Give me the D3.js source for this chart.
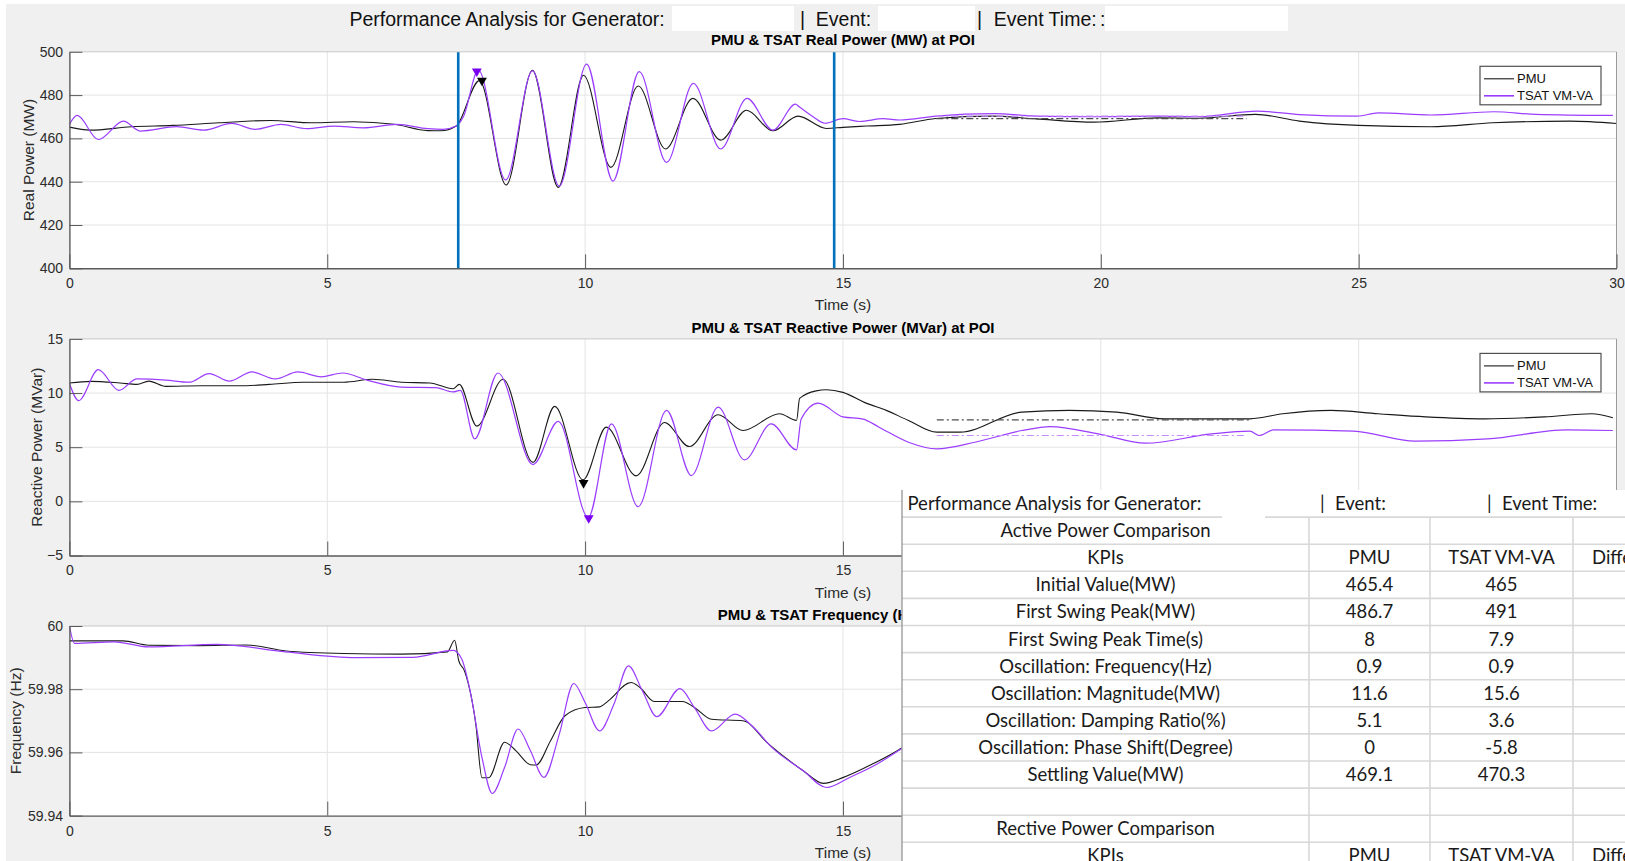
<!DOCTYPE html>
<html>
<head>
<meta charset="utf-8">
<script src="https://cdn.jsdelivr.net/npm/d3@7"></script>
<style>
  html, body { margin: 0; padding: 0; background: #fff; overflow: hidden; }
  svg { display: block; }
</style>
</head>
<body>
<div id="chart"></div>
<script>
// ---- data ----
const timeTicks = [0, 5, 10, 15, 20, 25, 30];
const realTicks = [400, 420, 440, 460, 480, 500];
const reactiveTicks = [-5, 0, 5, 10, 15];
const freqTicks = [59.94, 59.96, 59.98, 60];

const eventWindow = [7.54, 14.83];

// [time (s), MW]
const realPMU = [[0,465.2],[0.4,463.8],[1.2,465.4],[2.0,466],[2.9,467.2],[3.9,468.3],[4.7,467.2],[5.5,467.7],[6.3,466.5],[6.95,463.6],[7.2,463.5],[7.5,465.7],[7.95,486.7],[8.47,438.5],[8.98,491.5],[9.48,437.4],[9.97,489.2],[10.5,446.6],[11.03,484.2],[11.56,455.1],[12.09,478.5],[12.63,459.2],[13.13,473],[13.64,463.5],[14.13,470.3],[14.68,464.6],[15.0,465.1],[15.45,465.7],[16.1,466.5],[16.8,469.2],[17.9,470.3],[18.75,469],[19.87,467.5],[21.1,469.5],[21.9,469.3],[23.0,471.1],[23.85,468],[25.0,466],[26.4,465.4],[27.6,467.2],[29.1,468],[30,466.9]];
const realTSAT = [[0,466.5],[0.15,470.6],[0.56,459.5],[1.05,468],[1.37,463.4],[2.08,465.4],[2.6,463.8],[3.15,466.9],[3.6,464.2],[4.1,466.5],[4.6,464.5],[5.13,465.7],[5.7,464.9],[6.35,466.5],[6.95,464.5],[7.25,464.2],[7.5,465.7],[7.64,470],[7.93,491.5],[8.46,440.8],[8.98,491.2],[9.5,438],[10.03,494.3],[10.54,440.3],[11.05,490.8],[11.58,448.9],[12.1,485.4],[12.63,455.1],[13.14,478.5],[13.64,463.8],[14.08,475.8],[14.15,474.6],[14.42,470],[14.65,467],[15.0,469.1],[15.32,467.8],[15.78,469.1],[16.1,468.5],[16.8,470.3],[17.93,471.4],[18.75,470.3],[19.87,470],[21.09,470.3],[21.91,470],[23.03,472.6],[23.85,471],[24.97,470.3],[25.38,471.8],[26.4,470.8],[27.62,472.3],[28.44,471.1],[29.93,470.6]];

// [time (s), MVar]
const reactivePMU = [[0,10.93],[0.42,11.08],[0.98,10.93],[1.31,10.8],[1.54,11.1],[1.87,10.62],[2.54,10.68],[3.43,10.68],[3.88,10.8],[4.54,11.0],[5.32,11.0],[5.88,11.27],[6.44,11.0],[6.99,10.93],[7.44,10.4],[7.56,10.8],[7.9,6.95],[8.41,11.27],[8.99,3.6],[9.41,8.77],[9.96,1.98],[10.41,6.85],[10.99,2.35],[11.54,7.28],[12.02,5.06],[12.58,8.0],[13.06,6.54],[13.77,8.09],[14.1,7.47],[14.16,9.5],[14.48,10.2],[14.68,10.3],[15.0,10.06],[15.45,9.07],[15.84,8.4],[16.27,7.47],[16.82,6.39],[17.27,6.39],[18.47,8.24],[19.39,8.4],[20.31,8.24],[21.23,7.62],[22.89,7.62],[23.53,8.09],[24.46,8.4],[25.38,8.09],[26.3,7.8],[27.45,7.62],[28.6,7.8],[29.52,8.09],[29.93,7.72]];
const reactiveTSAT = [[0,10.9],[0.18,9.3],[0.56,12.16],[0.96,10.25],[1.31,11.3],[1.87,11.2],[2.32,11.0],[2.71,11.8],[3.1,11.1],[3.54,11.95],[3.99,11.3],[4.43,11.95],[4.88,11.5],[5.3,11.85],[5.77,11.2],[6.44,10.55],[7.1,10.5],[7.44,10.1],[7.58,10.25],[7.86,5.77],[8.31,11.85],[8.99,3.4],[9.48,7.38],[10.06,-1.48],[10.51,7.16],[11.03,-0.5],[11.58,8.4],[12.06,2.38],[12.58,8.7],[13.09,3.83],[13.61,7.16],[14.1,4.75],[14.19,7.6],[14.52,9.07],[15.0,7.8],[15.39,7.6],[15.7,6.85],[16.27,5.46],[16.82,4.85],[17.56,5.46],[18.47,6.54],[19.02,6.9],[19.95,6.23],[20.87,5.37],[22.15,6.23],[22.89,6.48],[23.07,6.08],[23.35,6.6],[24.9,6.48],[26.1,5.56],[27.5,5.77],[29.05,6.6],[29.93,6.54]];

// [time (s), Hz]
const freqPMU = [[0,59.9953],[1.04,59.9953],[1.54,59.9939],[2.5,59.9938],[3.43,59.994],[4.2,59.9921],[5.32,59.9913],[6.44,59.9911],[7.33,59.9918],[7.47,59.9955],[7.55,59.989],[7.66,59.9858],[7.88,59.969],[8.0,59.952],[8.13,59.952],[8.44,59.9632],[8.66,59.9605],[8.94,59.9561],[9.05,59.956],[9.33,59.9637],[9.61,59.9716],[10.0,59.9742],[10.28,59.9744],[10.45,59.9763],[10.89,59.9821],[11.06,59.9806],[11.34,59.9761],[11.89,59.9761],[12.12,59.9742],[12.45,59.9705],[13.06,59.97],[13.56,59.9626],[14.23,59.9542],[14.62,59.9502],[15.01,59.9521],[15.57,59.9563],[16.07,59.9607],[16.3,59.963]];
const freqTSAT = [[0,60.0],[0.1,59.9945],[0.87,59.995],[1.54,59.9934],[2.87,59.9942],[4.2,59.9918],[5.55,59.99],[6.66,59.9901],[7.44,59.9923],[7.61,59.9895],[7.77,59.9795],[8.0,59.9584],[8.2,59.947],[8.44,59.9553],[8.7,59.9674],[8.94,59.9605],[9.2,59.9521],[9.5,59.9658],[9.78,59.9818],[10.0,59.9758],[10.28,59.9668],[10.56,59.9753],[10.84,59.9874],[11.11,59.9795],[11.39,59.9713],[11.84,59.9802],[12.12,59.9742],[12.45,59.9668],[12.91,59.9721],[13.23,59.9685],[13.62,59.9616],[14.23,59.9542],[14.68,59.9489],[15.12,59.952],[15.68,59.9565],[16.07,59.9605],[16.3,59.963]];

// settling values (dash-dot) and first swing markers
const realSettling = [{series: "PMU", value: 469.1, from: 16.81, to: 22.83}, {series: "TSAT", value: 470.3, from: 16.81, to: 22.83}];
const reactiveSettling = [{series: "PMU", value: 7.53, from: 16.82, to: 22.89}, {series: "TSAT", value: 6.08, from: 16.82, to: 22.8}];
const realPeaks = [{series: "TSAT", t: 7.9, value: 491}, {series: "PMU", t: 8, value: 486.7}];
const reactivePeaks = [{series: "TSAT", t: 10.07, value: -1.54}, {series: "PMU", t: 9.97, value: 1.7}];

// table
const tableColumns = ["KPIs", "PMU", "TSAT VM-VA", "Difference"];
const activeKpis = ["Initial Value(MW)", "First Swing Peak(MW)", "First Swing Peak Time(s)", "Oscillation: Frequency(Hz)", "Oscillation: Magnitude(MW)", "Oscillation: Damping Ratio(%)", "Oscillation: Phase Shift(Degree)", "Settling Value(MW)"];
const activePmu = ["465.4", "486.7", "8", "0.9", "11.6", "5.1", "0", "469.1"];
const activeTsat = ["465", "491", "7.9", "0.9", "15.6", "3.6", "-5.8", "470.3"];

// ---- drawing ----
const W = 1625, H = 861;
const config = {
  left: 69.4,
  right: 1616.5,
  font: "'Liberation Sans', Arial, Helvetica, sans-serif",
  tableFont: "Lato, 'Open Sans', sans-serif",
  pmuColor: "#1a1a1a",
  tsatColor: "#9b3dff",
  markerPurple: "#7a00f0",
  eventColor: "#0072bd",
  axisColor: "#5a5a5a",
  gridColor: "#e4e4e4"
};
// the KPI table pasted over the lower right corner
const tLeft = 902, tTop = 490, rowH = 27.1;

const svg = d3.select("#chart")
  .append("svg")
  .attr("width", W)
  .attr("height", H);

svg.append("rect")
  .attr("x", 6).attr("y", 4)
  .attr("width", W).attr("height", H)
  .attr("fill", "#f0f0f0");

const x = d3.scaleLinear().domain([0, 30]).range([config.left, config.right]);

// figure title with blanked values
const head = svg.append("g").attr("font-family", config.font).attr("font-size", 19.5).attr("fill", "#111");
head.append("text").attr("x", 349.4).attr("y", 26).text("Performance Analysis for Generator:");
head.append("text").attr("x", 800).attr("y", 26).text("|");
head.append("text").attr("x", 815.8).attr("y", 26).text("Event:");
head.append("text").attr("x", 977).attr("y", 26).text("|");
head.append("text").attr("x", 993.7).attr("y", 26).text("Event Time:");
head.append("text").attr("x", 1100).attr("y", 26).text(":");
[[672, 794], [878, 975], [1105, 1288]].forEach(b => {
  head.append("rect").attr("x", b[0]).attr("y", 6).attr("width", b[1] - b[0]).attr("height", 25).attr("fill", "#fff");
});

// everything left of the pasted table
svg.append("clipPath").attr("id", "clip-left")
  .append("rect").attr("x", 0).attr("y", 0).attr("width", tLeft).attr("height", H);

const panels = [
  {id: "real", top: 51.8, bottom: 268.3, domain: [400, 500], ticks: realTicks, fmt: d3.format("d"),
   title: "PMU & TSAT Real Power (MW) at POI", titleY: 45, ylabel: "Real Power (MW)", ylabelX: 33.5,
   pmu: realPMU, tsat: realTSAT, settling: realSettling, peaks: realPeaks, events: eventWindow, legend: true},
  {id: "reactive", top: 338.9, bottom: 555.5, domain: [-5, 15], ticks: reactiveTicks, fmt: d3.format("d"),
   title: "PMU & TSAT Reactive Power (MVar) at POI", titleY: 333, ylabel: "Reactive Power (MVar)", ylabelX: 42,
   pmu: reactivePMU, tsat: reactiveTSAT, settling: reactiveSettling, peaks: reactivePeaks, events: [], legend: true},
  {id: "freq", top: 626, bottom: 815.6, domain: [59.94, 60], ticks: freqTicks, fmt: d => d === 60 ? "60" : d3.format(".2f")(d),
   title: "PMU & TSAT Frequency (Hz) at POI", titleY: 620, ylabel: "Frequency (Hz)", ylabelX: 21,
   pmu: freqPMU, tsat: freqTSAT, settling: [], peaks: [], events: [], legend: false}
];

const drawPanel = function(p) {
  const y = d3.scaleLinear().domain(p.domain).range([p.bottom, p.top]);
  const g = svg.append("g").attr("class", "panel-" + p.id);
  const plotW = x(30) - x(0);
  const underTable = p.bottom > tTop;

  g.append("rect")
    .attr("x", x(0)).attr("y", p.top)
    .attr("width", plotW).attr("height", p.bottom - p.top)
    .attr("fill", "#fff");

  g.selectAll(".vgrid").data(timeTicks.slice(1, -1)).enter().append("line")
    .attr("x1", d => x(d)).attr("x2", d => x(d))
    .attr("y1", p.top).attr("y2", p.bottom)
    .attr("stroke", config.gridColor);
  g.selectAll(".hgrid").data(p.ticks.slice(1, -1)).enter().append("line")
    .attr("x1", x(0)).attr("x2", x(30))
    .attr("y1", d => y(d)).attr("y2", d => y(d))
    .attr("stroke", config.gridColor);

  svg.append("clipPath").attr("id", "clip-" + p.id)
    .append("rect")
    .attr("x", x(0)).attr("y", p.top)
    .attr("width", plotW).attr("height", p.bottom - p.top);
  const plot = g.append("g").attr("clip-path", "url(#clip-" + p.id + ")");

  const line = d3.line()
    .x(d => x(d[0]))
    .y(d => y(d[1]))
    .curve(d3.curveMonotoneX);

  plot.append("path").datum(p.pmu)
    .attr("d", line)
    .attr("fill", "none")
    .attr("stroke", config.pmuColor)
    .attr("stroke-width", 1.1);
  plot.append("path").datum(p.tsat)
    .attr("d", line)
    .attr("fill", "none")
    .attr("stroke", config.tsatColor)
    .attr("stroke-width", 1.2);

  plot.selectAll(".settle").data(p.settling).enter().append("line")
    .attr("x1", d => x(d.from)).attr("x2", d => x(d.to))
    .attr("y1", d => y(d.value)).attr("y2", d => y(d.value))
    .attr("stroke", d => d.series === "PMU" ? "#4d4d4d" : "#c48cff")
    .attr("stroke-width", 1.2)
    .attr("stroke-dasharray", "7,3,2,3");

  plot.selectAll(".event").data(p.events).enter().append("line")
    .attr("x1", d => x(d)).attr("x2", d => x(d))
    .attr("y1", p.top).attr("y2", p.bottom)
    .attr("stroke", config.eventColor)
    .attr("stroke-width", 2.6);

  const tri = d3.symbol().type(d3.symbolTriangle).size(42);
  plot.selectAll(".peak").data(p.peaks).enter().append("path")
    .attr("d", tri)
    .attr("transform", d => "translate(" + x(d.t) + "," + y(d.value) + ") rotate(180)")
    .attr("fill", d => d.series === "PMU" ? "#000" : config.markerPurple);

  // box
  g.append("line").attr("x1", x(0)).attr("x2", x(30)).attr("y1", p.top).attr("y2", p.top)
    .attr("stroke", "#c8c8c8");
  g.append("line").attr("x1", x(30)).attr("x2", x(30)).attr("y1", p.top).attr("y2", p.bottom)
    .attr("stroke", "#9a9a9a");

  const xAxis = g.append("g")
    .attr("transform", "translate(0," + p.bottom + ")")
    .call(d3.axisBottom(x).tickValues(timeTicks).tickSize(-14).tickSizeOuter(0).tickPadding(10));
  const yAxis = g.append("g")
    .attr("transform", "translate(" + x(0) + ",0)")
    .call(d3.axisLeft(y).tickValues(p.ticks).tickFormat(p.fmt).tickSize(-13).tickSizeOuter(0).tickPadding(6.4));
  [xAxis, yAxis].forEach(a => {
    a.attr("font-family", config.font).attr("font-size", 14).attr("color", config.axisColor);
    a.select(".domain").attr("stroke-width", 1.4);
    a.selectAll("text").attr("fill", "#2b2b2b");
  });
  // labels that sit under the pasted table are not shown
  if (underTable) {
    xAxis.selectAll(".tick").filter(d => x(d) > tLeft).select("text").remove();
  }

  g.append("text")
    .attr("x", (x(0) + x(30)) / 2).attr("y", p.titleY)
    .attr("text-anchor", "middle")
    .attr("clip-path", p.top > tTop ? "url(#clip-left)" : null)
    .attr("font-family", config.font).attr("font-weight", "bold").attr("font-size", 15)
    .attr("fill", "#000")
    .text(p.title);

  g.append("text")
    .attr("x", (x(0) + x(30)) / 2).attr("y", p.bottom + 42)
    .attr("text-anchor", "middle")
    .attr("font-family", config.font).attr("font-size", 15.5)
    .attr("fill", "#2b2b2b")
    .text("Time (s)");

  g.append("text")
    .attr("transform", "translate(" + p.ylabelX + "," + (p.top + p.bottom) / 2 + ") rotate(-90)")
    .attr("text-anchor", "middle")
    .attr("font-family", config.font).attr("font-size", 15.5)
    .attr("fill", "#2b2b2b")
    .text(p.ylabel);

  if (p.legend) {
    const lg = g.append("g").attr("transform", "translate(1480," + (p.top + 14.5) + ")");
    lg.append("rect").attr("width", 121).attr("height", 38.5)
      .attr("fill", "#fff").attr("stroke", "#505050").attr("stroke-width", 1.2);
    const items = [{name: "PMU", color: config.pmuColor, w: 1.1}, {name: "TSAT VM-VA", color: config.tsatColor, w: 1.6}];
    items.forEach((it, i) => {
      const yy = 12.5 + i * 17;
      lg.append("line").attr("x1", 4).attr("x2", 34).attr("y1", yy).attr("y2", yy)
        .attr("stroke", it.color).attr("stroke-width", it.w);
      lg.append("text").attr("x", 37).attr("y", yy + 4.5)
        .attr("font-family", config.font).attr("font-size", 13).attr("fill", "#111")
        .text(it.name);
    });
  }
};

panels.forEach(drawPanel);

// ---- KPI table ----
const colEdges = [902, 1309, 1430, 1573, W];
const table = svg.append("g").attr("font-family", config.tableFont).attr("font-size", 18.5).attr("fill", "#1a1a1a");

table.append("rect")
  .attr("x", tLeft).attr("y", tTop)
  .attr("width", W - tLeft).attr("height", H - tTop)
  .attr("fill", "#fff");

const rows = [
  ["Active Power Comparison", "", "", ""],
  tableColumns
].concat(activeKpis.map((k, i) => [k, activePmu[i], activeTsat[i], ""]))
 .concat([["", "", "", ""], ["Rective Power Comparison", "", "", ""], tableColumns]);

// horizontal rules
d3.range(1, rows.length + 1).forEach(i => {
  const yy = tTop + i * rowH;
  const segs = i === 1 ? [[tLeft, 1222], [1265, W]] : [[tLeft, W]];
  segs.forEach(s => {
    table.append("line").attr("x1", s[0]).attr("x2", s[1]).attr("y1", yy).attr("y2", yy)
      .attr("stroke", "#d8d8d8").attr("stroke-width", 1.6);
  });
});
colEdges.slice(1, 4).forEach(cx => {
  table.append("line").attr("x1", cx).attr("x2", cx).attr("y1", tTop + rowH).attr("y2", H)
    .attr("stroke", "#d8d8d8").attr("stroke-width", 1.6);
});
table.append("line").attr("x1", tLeft).attr("x2", tLeft).attr("y1", tTop).attr("y2", H)
  .attr("stroke", "#9c9c9c").attr("stroke-width", 1.4);

// header row
const hy = tTop + rowH / 2 + 6.5;
table.append("text").attr("x", 907.5).attr("y", hy).text("Performance Analysis for Generator:");
table.append("text").attr("x", 1320).attr("y", hy).text("|");
table.append("text").attr("x", 1335).attr("y", hy).text("Event:");
table.append("text").attr("x", 1487).attr("y", hy).text("|");
table.append("text").attr("x", 1502).attr("y", hy).text("Event Time:");

rows.forEach((r, i) => {
  const yy = tTop + (i + 1) * rowH + rowH / 2 + 6.5;
  r.forEach((c, j) => {
    if (!c) return;
    const last = j === 3;
    table.append("text")
      .attr("x", last ? 1592 : (colEdges[j] + colEdges[j + 1]) / 2)
      .attr("y", yy)
      .attr("text-anchor", last ? "start" : "middle")
      .text(c);
  });
});
</script>
</body>
</html>
